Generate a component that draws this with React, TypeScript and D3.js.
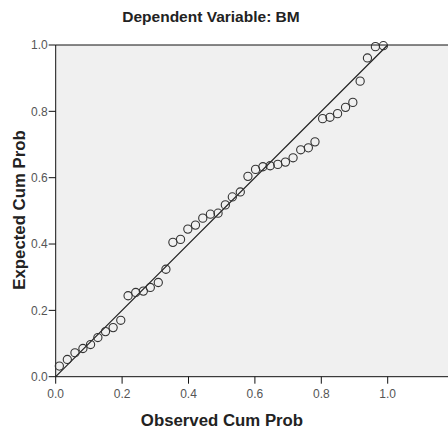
import React from "react";
import * as d3 from "d3";

const observed = [0.011, 0.035, 0.058, 0.082, 0.105, 0.127, 0.150, 0.173, 0.196, 0.218, 0.241, 0.264, 0.285, 0.309, 0.332, 0.353, 0.376, 0.398, 0.421, 0.443, 0.466, 0.489, 0.511, 0.532, 0.556, 0.579, 0.602, 0.624, 0.646, 0.669, 0.692, 0.715, 0.738, 0.761, 0.781, 0.804, 0.826, 0.849, 0.873, 0.895, 0.917, 0.939, 0.963, 0.987];
const expected = [0.032, 0.052, 0.072, 0.085, 0.097, 0.118, 0.136, 0.148, 0.170, 0.244, 0.254, 0.258, 0.269, 0.284, 0.324, 0.405, 0.414, 0.445, 0.457, 0.478, 0.490, 0.493, 0.518, 0.542, 0.557, 0.604, 0.625, 0.633, 0.636, 0.640, 0.647, 0.660, 0.684, 0.690, 0.708, 0.778, 0.782, 0.793, 0.812, 0.827, 0.891, 0.961, 0.995, 0.998];
const xTicks = [0, 0.2, 0.4, 0.6, 0.8, 1.0];
const yTicks = [0, 0.2, 0.4, 0.6, 0.8, 1.0];
const title = "Dependent Variable: BM";
const xLabel = "Observed Cum Prob";
const yLabel = "Expected Cum Prob";

export default function App() {
  const W = 448, H = 429;
  const x = d3.scaleLinear().domain([0, 1]).range([55.7, 387.7]);
  const y = d3.scaleLinear().domain([0, 1]).range([376.7, 45]);
  const left = x(0), right = x(1.25), top = y(1), bottom = y(0);
  const line = d3.line<number>().x((d) => x(d)).y((d) => y(d));
  const font = "'Liberation Sans', Arial, sans-serif";
  return (
    <svg width={W} height={H} style={{ position: "absolute", left: 0, top: 0 }}>
      <rect x={0} y={0} width={W} height={H} fill="#fff" />
      <text x={211} y={22} textAnchor="middle" fontFamily={font} fontWeight="bold" fontSize={15.5} fill="#222">{title}</text>
      <rect x={left} y={top} width={right - left} height={bottom - top} fill="#f0f0f0" />
      <line x1={left} x2={right} y1={top} y2={top} stroke="#111" strokeWidth={1} />
      <line x1={left} x2={right} y1={bottom} y2={bottom} stroke="#111" strokeWidth={1} />
      <line x1={left} x2={left} y1={top} y2={bottom} stroke="#111" strokeWidth={1} />
      {yTicks.map((t) => (
        <g key={"y" + t}>
          <line x1={left - 7} x2={left} y1={y(t)} y2={y(t)} stroke="#111" />
          <text x={left - 8} y={y(t) + 4.2} textAnchor="end" fontFamily={font} fontSize={12} fill="#555">{t.toFixed(1)}</text>
        </g>
      ))}
      {xTicks.map((t) => (
        <g key={"x" + t}>
          <line x1={x(t)} x2={x(t)} y1={bottom} y2={bottom + 7} stroke="#111" />
          <text x={x(t)} y={bottom + 21} textAnchor="middle" fontFamily={font} fontSize={12} fill="#555">{t.toFixed(1)}</text>
        </g>
      ))}
      <path d={line([0, 1]) || ""} stroke="#222" strokeWidth={1.2} fill="none" />
      {observed.map((o, i) => (
        <circle key={i} cx={x(o)} cy={y(expected[i])} r={4.1} fill="none" stroke="#333" strokeWidth={1.1} />
      ))}
      <text x={222} y={426} textAnchor="middle" fontFamily={font} fontWeight="bold" fontSize={16.8} fill="#222">{xLabel}</text>
      <text transform={`translate(24.5,210) rotate(-90)`} textAnchor="middle" fontFamily={font} fontWeight="bold" fontSize={16.8} fill="#222">{yLabel}</text>
    </svg>
  );
}
